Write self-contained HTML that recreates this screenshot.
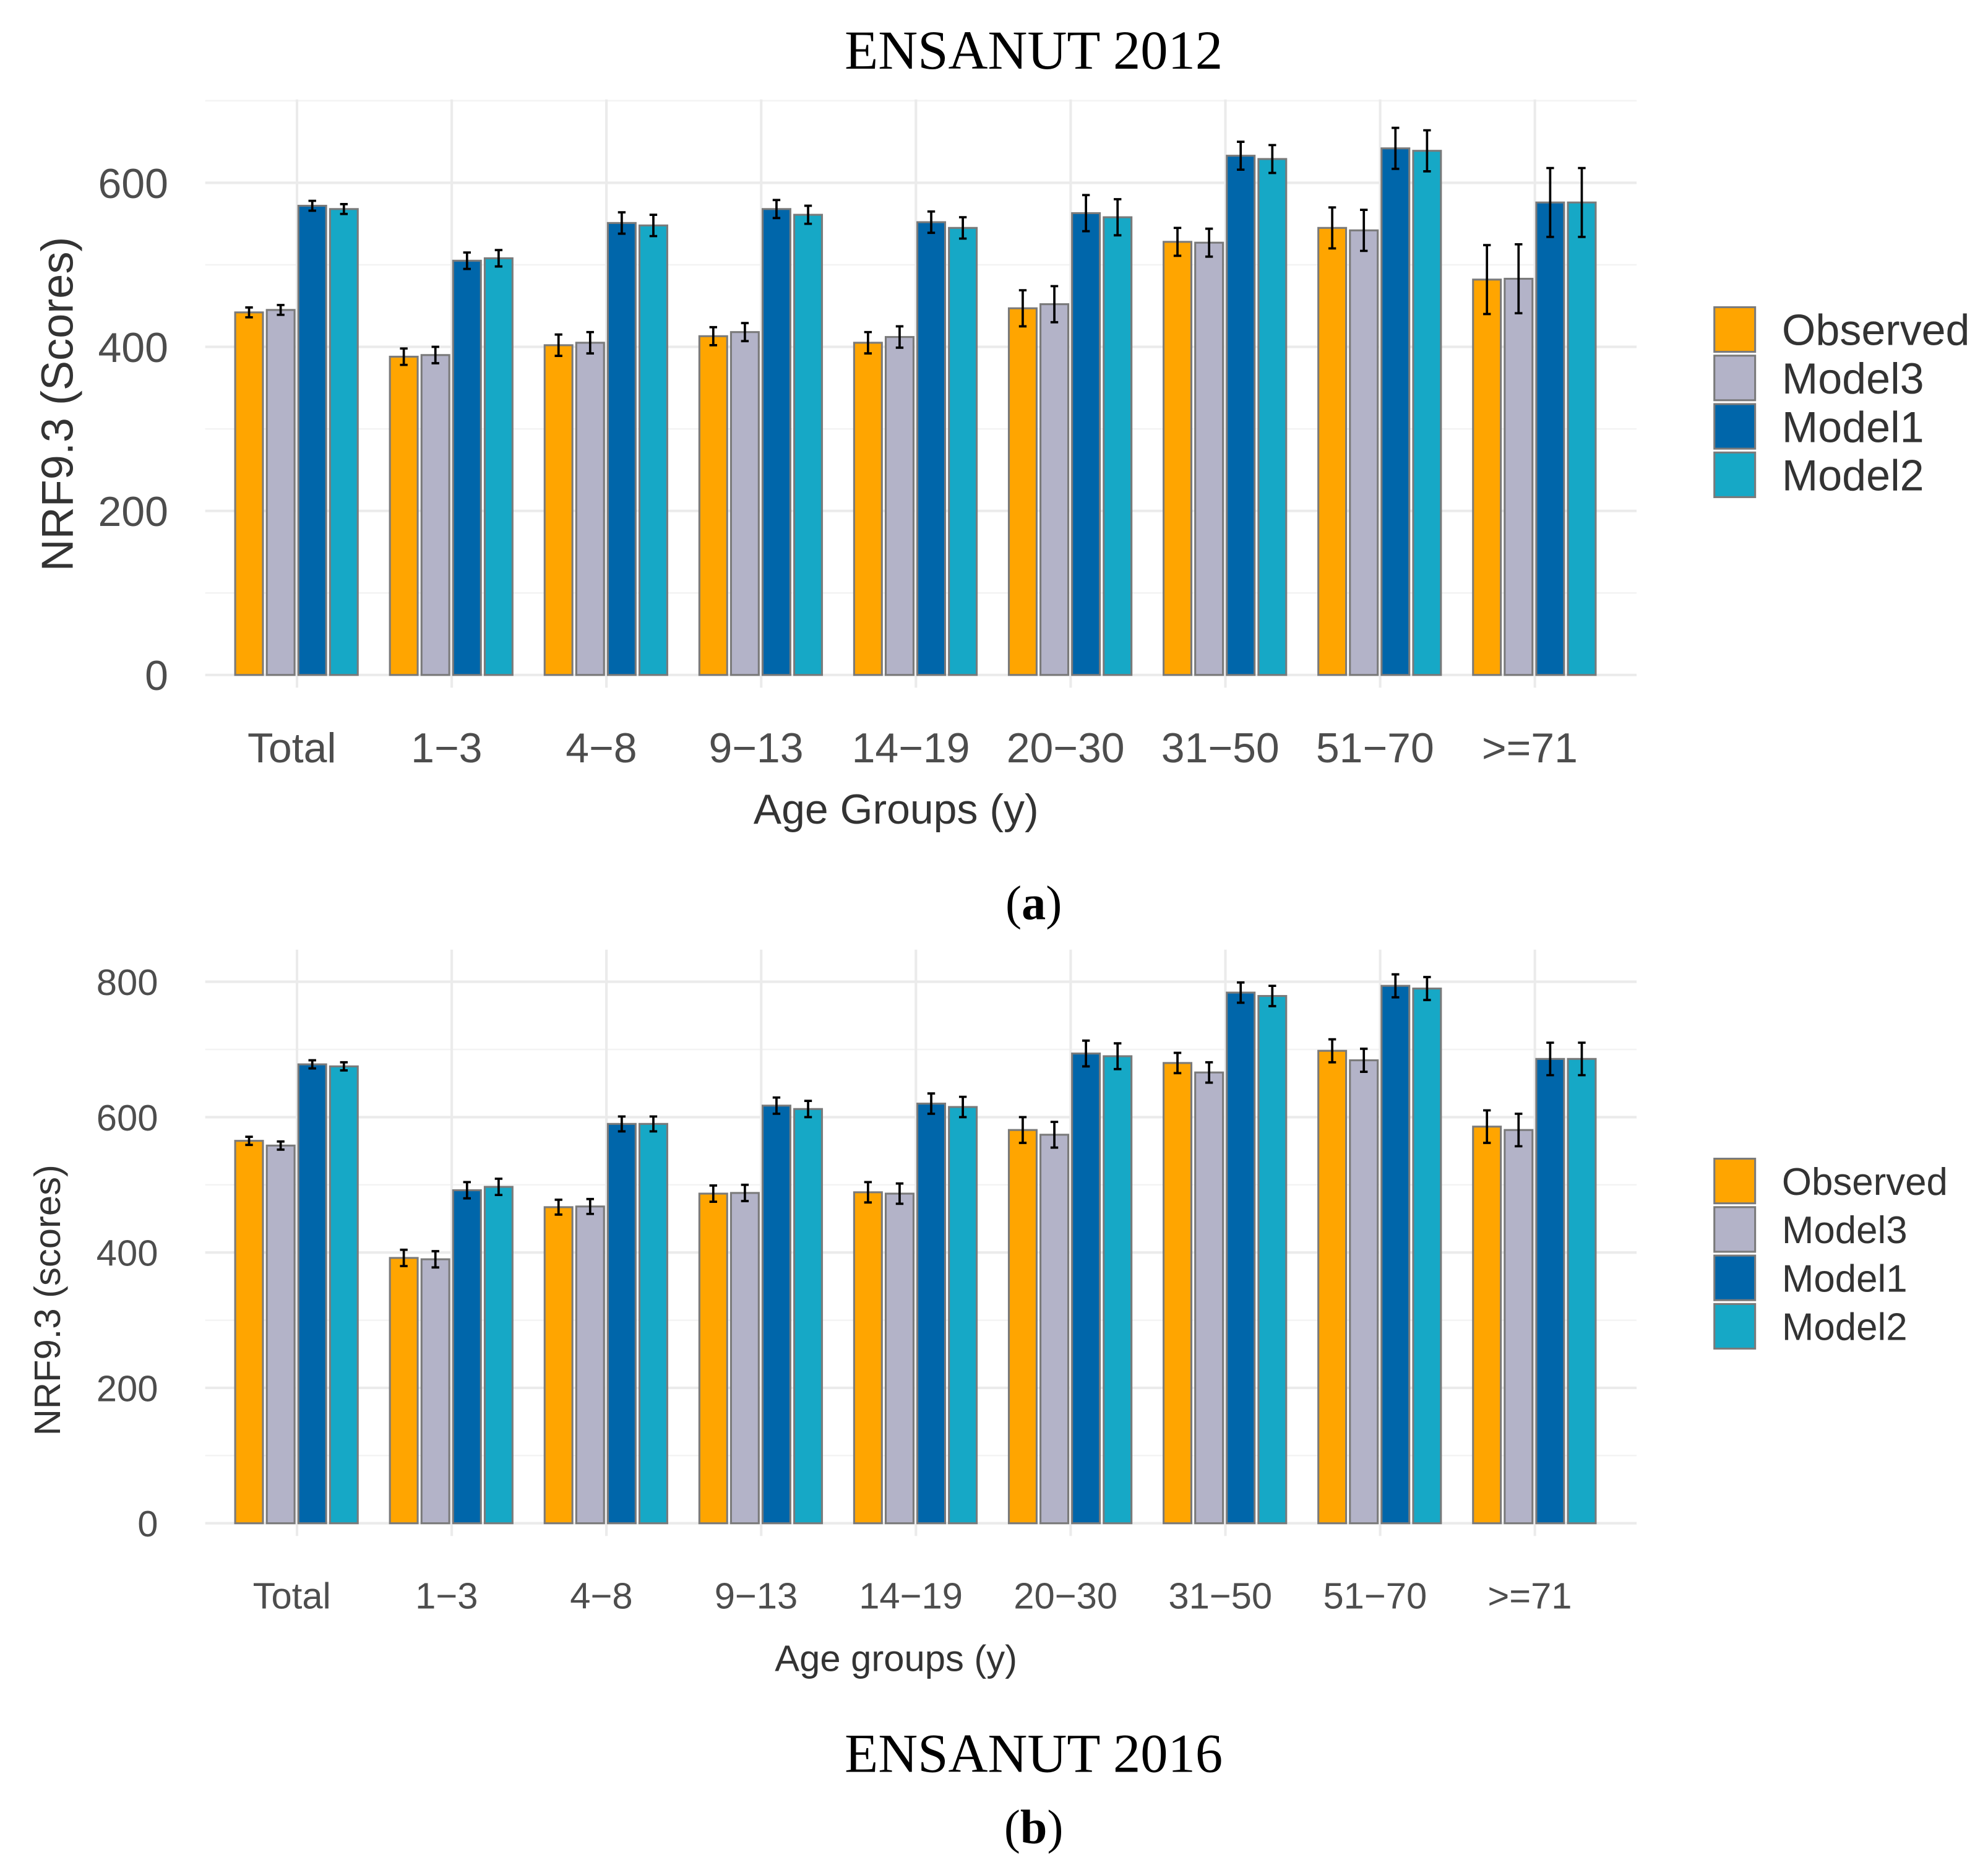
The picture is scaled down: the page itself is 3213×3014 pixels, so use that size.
<!DOCTYPE html>
<html><head><meta charset="utf-8"><style>
html,body{margin:0;padding:0;background:#fff;}
svg{display:block;}
</style></head><body>
<svg id="fig" xmlns="http://www.w3.org/2000/svg" width="3213" height="3014" viewBox="0 0 1559.7 1463.1" preserveAspectRatio="none">
<rect width="1559.7" height="1463.1" fill="#fff"/>
<g id="ga"></g>
<g id="gb"></g>
<text x="811" y="54" text-anchor="middle" font-family="Liberation Serif, serif" font-size="43" fill="#000">ENSANUT 2012</text>
<text x="811" y="721" text-anchor="middle" font-family="Liberation Serif, serif" font-size="38" fill="#000">(<tspan font-weight="bold">a</tspan>)</text>
<text x="811" y="1390" text-anchor="middle" font-family="Liberation Serif, serif" font-size="43" fill="#000">ENSANUT 2016</text>
<text x="811" y="1446" text-anchor="middle" font-family="Liberation Serif, serif" font-size="38" fill="#000">(<tspan font-weight="bold">b</tspan>)</text>
</svg>
<script>
const categories = ["Total","1\u22123","4\u22128","9\u221213","14\u221219","20\u221230","31\u221250","51\u221270",">=71"];
const seriesNames = ["Observed","Model3","Model1","Model2"];
const aObserved = [442,388,402,413,405,447,528,545,482];
const aModel3 = [445,390,405,418,412,452,527,542,483];
const aModel1 = [572,505,551,568,552,563,633,642,576];
const aModel2 = [568,508,548,561,545,558,629,639,576];
const aErr = [6,10,13,11,13,22,17,25,42];
const aTicks = [0,200,400,600];
const bObserved = [565,392,467,487,489,581,680,698,586];
const bModel3 = [558,390,468,488,487,574,666,684,581];
const bModel1 = [678,492,590,617,620,694,784,794,686];
const bModel2 = [675,497,590,612,615,690,779,790,686];
const bErr = [6,12,11,12,15,19,15,17,24];
const bTicks = [0,200,400,600,800];
const colors = ["#FFA500","#B3B3C8","#0066AA","#16A8C6"];
const NS = "http://www.w3.org/2000/svg";
function mk(parent, tag, attrs){const e=document.createElementNS(NS,tag);for(const k in attrs)e.setAttribute(k,attrs[k]);parent.appendChild(e);return e;}

function draw(g, cfg){
  const {series, err, ticks, y0, yPer100, top, fs, ytitle, ytitleFs, ytitleY, xtitle, xlabY, xtitleY, ytitleX, tickRight, legY, legStep, legFs, minorMax} = cfg;
  const left=161, right=1284;
  const yScale=v=>y0 - v/100*yPer100;
  const xCenter=i=>233+i*121.4;
  for(let v=0; v<=minorMax; v+=100){
    const ln=mk(g,'line',{x1:left,x2:right,y1:yScale(v),y2:yScale(v),stroke: v%200===0?'#ebebeb':'#f3f3f3','stroke-width':v%200===0?2:1.2});
    
    
  }
  categories.forEach((c,i)=>{
    const ln=mk(g,'line',{x1:xCenter(i),x2:xCenter(i),y1:top,y2:y0+10,stroke:'#ebebeb','stroke-width':2});
    
    
  });
  ticks.forEach(t=>{
    const tx=mk(g,'text',{x:tickRight,y:yScale(t)+fs*0.36,'text-anchor':'end','font-family':'Liberation Sans, sans-serif','font-size':fs,fill:'#4d4d4d'});
    tx.textContent=t;
    
    
  });
  const bw=21.8, step=24.8;
  categories.forEach((c,i)=>{
    series.forEach((s,j)=>{
      const x=xCenter(i)-48.5+j*step;
      const v=s[i];
      const r=mk(g,'rect',{x:x,y:yScale(v),width:bw,height:y0-yScale(v),fill:colors[j],stroke:'#7a7a7a','stroke-width':1.5});
      
      
      const cx=x+bw/2, e=err[i];
      const eb=mk(g,'path',{d:`M${cx},${yScale(v+e)}V${yScale(v-e)}M${cx-3},${yScale(v+e)}H${cx+3}M${cx-3},${yScale(v-e)}H${cx+3}`,stroke:'#000','stroke-width':1.8,fill:'none'});
      
      
    });
    const tx=mk(g,'text',{x:xCenter(i)-4,y:xlabY,'text-anchor':'middle','font-family':'Liberation Sans, sans-serif','font-size':fs,fill:'#4d4d4d'});
    tx.textContent=c;
    
    
  });
  const xt=mk(g,'text',{x:703,y:xtitleY,'text-anchor':'middle','font-family':'Liberation Sans, sans-serif','font-size':fs,fill:'#333'});
  xt.textContent=xtitle;
  
  
  const yt=mk(g,'text',{x:ytitleX,y:ytitleY,'text-anchor':'middle','font-family':'Liberation Sans, sans-serif','font-size':ytitleFs,fill:'#333',transform:`rotate(-90 ${ytitleX} ${ytitleY})`});
  yt.textContent=ytitle;
  
  
  seriesNames.forEach((n,j)=>{
    const y=legY+j*legStep;
    const r=mk(g,'rect',{x:1345,y:y,width:32,height:35,fill:colors[j],stroke:'#7a7a7a','stroke-width':1.5});
    
    
    const t=mk(g,'text',{x:1398,y:y+17.5+legFs*0.36,'font-family':'Liberation Sans, sans-serif','font-size':legFs,fill:'#333'});
    t.textContent=n;
    
    
  });
}
draw(document.getElementById('ga'),{series:[aObserved,aModel3,aModel1,aModel2],err:aErr,ticks:aTicks,y0:529.5,yPer100:64.35,top:78,fs:33,ytitle:'NRF9.3 (Scores)',ytitleFs:35,ytitleY:317,xtitle:'Age Groups (y)',xlabY:598,xtitleY:646,ytitleX:57,tickRight:132,legY:241,legStep:38,legFs:34,minorMax:700});
draw(document.getElementById('gb'),{series:[bObserved,bModel3,bModel1,bModel2],err:bErr,ticks:bTicks,y0:1195,yPer100:53.1,top:745,fs:29,ytitle:'NRF9.3 (scores)',ytitleFs:29,ytitleY:1020,xtitle:'Age groups (y)',xlabY:1262,xtitleY:1311,ytitleX:47,tickRight:124,legY:909,legStep:38,legFs:30,minorMax:800});
</script>
</body></html>
